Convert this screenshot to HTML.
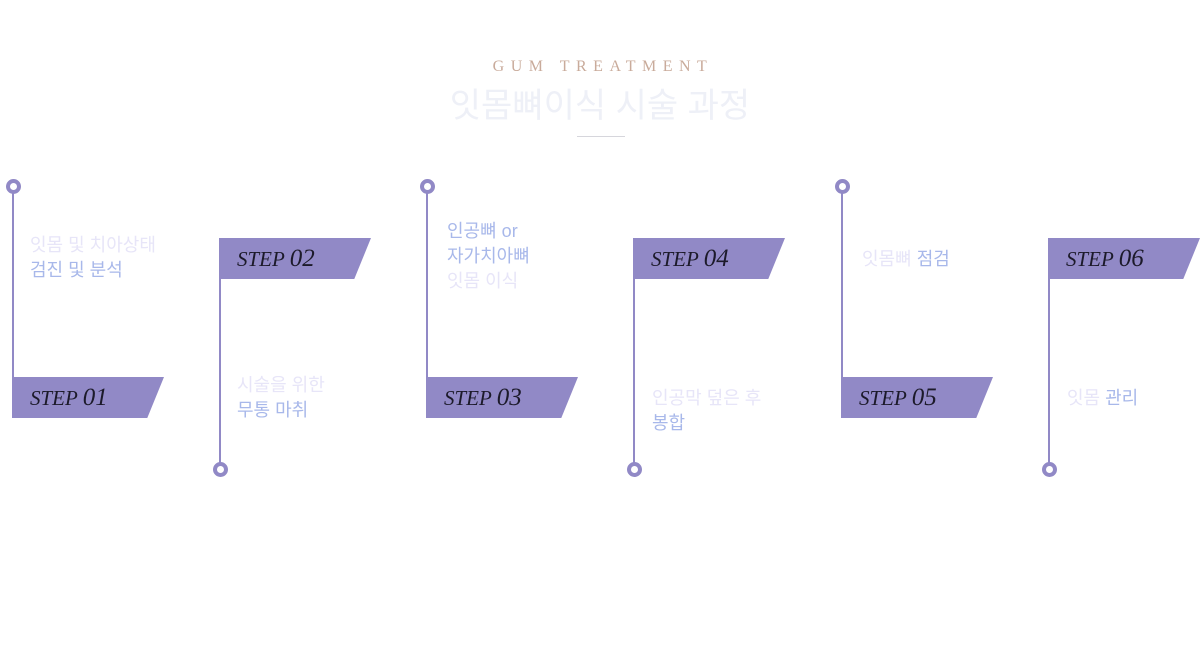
<!DOCTYPE html>
<html><head><meta charset="utf-8"><style>
body{margin:0;width:1200px;height:667px;background:#fff;position:relative;overflow:hidden;font-family:"Liberation Sans","Noto Sans CJK KR",sans-serif}
.a{position:absolute}
.en{left:0;width:1200px;text-align:center;top:58px;font-family:"Liberation Serif",serif;font-size:16px;letter-spacing:6.5px;color:#c9ab9b;padding-left:6px;box-sizing:border-box}
.ko{left:0;width:1200px;text-align:center;top:78px;font-size:34px;color:#eef0f7}
.hr{left:577px;top:136px;width:48px;height:1px;background:#d6d6dc}
.v{width:2px;background:#9189c6}
.c{width:7px;height:7px;border:4px solid #9189c6;border-radius:50%;background:#fff}
.f{height:41px;width:152px;background:#9189c6;clip-path:polygon(0 0,100% 0,89% 100%,0 100%)}
.f span{position:absolute;left:18px;top:7px;font-family:"Liberation Serif",serif;font-style:italic;font-size:21px;color:#1c1a2a}
.f b{font-weight:normal;font-size:25px}
.t{font-size:18px;line-height:25px;color:#e7e5f8}
.t i{font-style:normal;color:#a8b8ea}
</style></head><body>
<div class="a en">GUM TREATMENT</div>
<div class="a ko">잇몸뼈이식 시술 과정</div>
<div class="a hr"></div>

<div class="a v" style="left:12px;top:186px;height:192px"></div>
<div class="a c" style="left:5.5px;top:178.5px"></div>
<div class="a f" style="left:12px;top:377px"><span>STEP <b>01</b></span></div>
<div class="a t" style="left:30px;top:233px">잇몸 및 치아상태<br><i>검진 및 분석</i></div>

<div class="a v" style="left:219px;top:278px;height:191px"></div>
<div class="a c" style="left:212.5px;top:461.5px"></div>
<div class="a f" style="left:219px;top:238px"><span>STEP <b>02</b></span></div>
<div class="a t" style="left:237px;top:373px">시술을 위한<br><i>무통 마취</i></div>

<div class="a v" style="left:426px;top:186px;height:192px"></div>
<div class="a c" style="left:419.5px;top:178.5px"></div>
<div class="a f" style="left:426px;top:377px"><span>STEP <b>03</b></span></div>
<div class="a t" style="left:447px;top:219px"><i>인공뼈 or<br>자가치아뼈</i><br>잇몸 이식</div>

<div class="a v" style="left:633px;top:278px;height:191px"></div>
<div class="a c" style="left:626.5px;top:461.5px"></div>
<div class="a f" style="left:633px;top:238px"><span>STEP <b>04</b></span></div>
<div class="a t" style="left:652px;top:386px">인공막 덮은 후<br><i>봉합</i></div>

<div class="a v" style="left:841px;top:186px;height:192px"></div>
<div class="a c" style="left:834.5px;top:178.5px"></div>
<div class="a f" style="left:841px;top:377px"><span>STEP <b>05</b></span></div>
<div class="a t" style="left:862px;top:247px">잇몸뼈 <i>점검</i></div>

<div class="a v" style="left:1048px;top:278px;height:191px"></div>
<div class="a c" style="left:1041.5px;top:461.5px"></div>
<div class="a f" style="left:1048px;top:238px"><span>STEP <b>06</b></span></div>
<div class="a t" style="left:1067px;top:386px">잇몸 <i>관리</i></div>
</body></html>
